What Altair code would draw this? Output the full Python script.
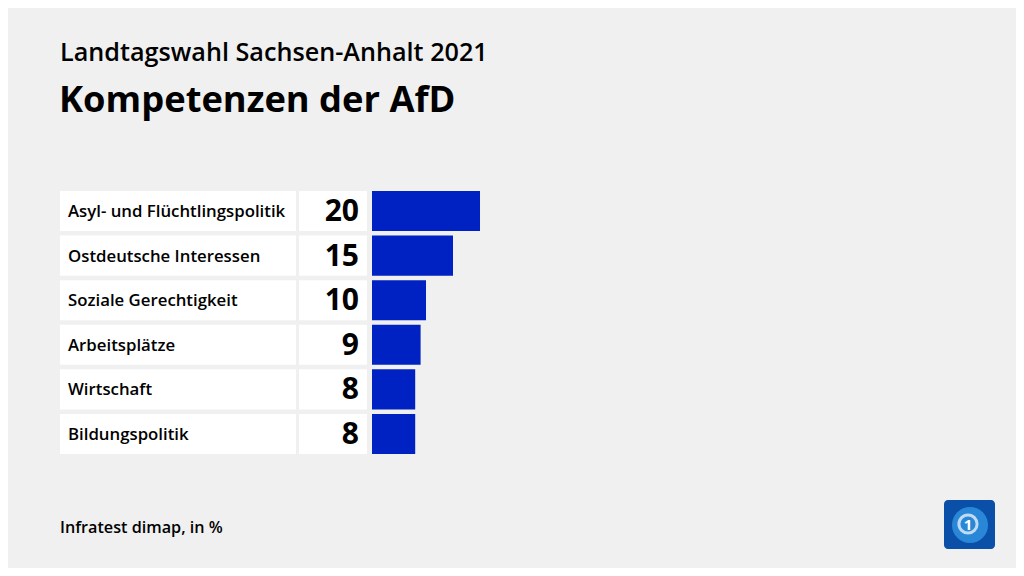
import altair as alt
import pandas as pd

categories = ["Asyl- und Flüchtlingspolitik", "Ostdeutsche Interessen", "Soziale Gerechtigkeit",
              "Arbeitsplätze", "Wirtschaft", "Bildungspolitik"]
values = [20, 15, 10, 9, 8, 8]

df = pd.DataFrame({"cat": categories, "val": values})

FONT = "Open Sans"
W, H = 1008, 560

def yenc():
    return alt.Y("cat:N", sort=categories, axis=None,
                 scale=alt.Scale(domain=categories, range=[183, 446], paddingInner=0.1, paddingOuter=0))

x_scale = alt.Scale(domain=[0, 100], range=[364, 904])

base = alt.Chart(df)

label_box = base.mark_rect(color="white").encode(
    y=yenc(), x=alt.value(52), x2=alt.value(288))
value_box = base.mark_rect(color="white").encode(
    y=yenc(), x=alt.value(291), x2=alt.value(359))
bars = base.mark_bar(color="#0022c2").encode(
    y=yenc(), x=alt.X("val:Q", scale=x_scale, axis=None), x2=alt.datum(0))
labels = base.mark_text(align="left", baseline="middle", font=FONT, fontSize=16.8,
                        fontWeight=600, color="#000000", dy=1).encode(
    y=yenc(), x=alt.value(60), text="cat:N")
nums = base.mark_text(align="right", baseline="middle", font=FONT, fontSize=30,
                      fontWeight="bold", color="#000000", dy=1).encode(
    y=yenc(), x=alt.value(351), text="val:Q")

one = alt.Data(values=[{"a": 1}])
def txt(s, x, y, size, weight, align="left", color="#000000"):
    return alt.Chart(one).mark_text(text=s, align=align, baseline="middle", font=FONT,
                                    fontSize=size, fontWeight=weight, color=color).encode(
        x=alt.value(x), y=alt.value(y))

sub = txt("Landtagswahl Sachsen-Anhalt 2021", 52, 45, 25.2, 600)
title = txt("Kompetenzen der AfD", 51, 93, 36.3, "bold")
foot = txt("Infratest dimap, in %", 52, 520, 16.2, 600)

logo_bg = alt.Chart(one).mark_rect(color="#0a4fa8", cornerRadius=4).encode(
    x=alt.value(936), x2=alt.value(987), y=alt.value(492), y2=alt.value(541))
logo_globe = alt.Chart(one).mark_point(filled=True, color="#2a86d6", size=1300, opacity=1).encode(
    x=alt.value(962), y=alt.value(517))
logo_ring = alt.Chart(one).mark_point(filled=False, color="white", size=330, strokeWidth=3).encode(
    x=alt.value(960), y=alt.value(516))
logo_one = txt("1", 960, 517, 15, "bold", align="center", color="#ffffff")

chart = alt.layer(label_box, value_box, bars, labels, nums, sub, title, foot,
                  logo_bg, logo_globe, logo_ring, logo_one).properties(
    width=W, height=H, background="#f0f0f0", padding=0,
    autosize=alt.AutoSizeParams(type="none")
).configure_view(stroke=None)

chart.save("out.html", embed_options={"renderer": "svg", "actions": False})
